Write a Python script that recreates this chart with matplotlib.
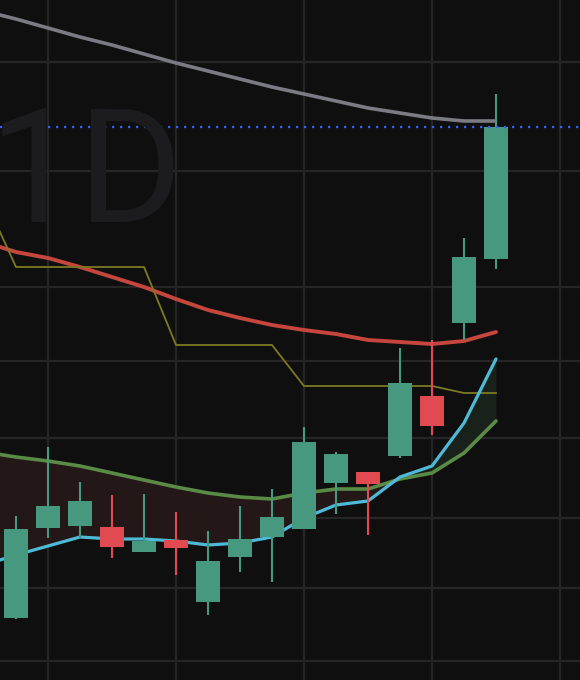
import matplotlib
matplotlib.use("Agg")
import matplotlib.pyplot as plt
import numpy as np

# ---- data (price units) ----
candle_idx = list(range(16))
opens  = [6.2, 15.2, 15.4, 15.3, 12.8, 14.0, 7.8, 12.3, 14.3, 15.1, 19.7, 20.8, 22.4, 28.4, 35.7, 42.1]
highs  = [16.4, 23.3, 19.8, 18.5, 18.6, 16.8, 14.9, 17.4, 19.1, 25.3, 22.8, 20.8, 33.2, 34.0, 44.2, 58.6]
lows   = [6.1, 14.2, 14.2, 12.2, 12.8, 10.5, 6.5, 10.8, 9.8, 15.1, 16.6, 14.5, 22.2, 24.5, 34.0, 41.1]
closes = [15.1, 17.4, 17.9, 13.3, 13.9, 13.2, 11.9, 14.1, 16.3, 23.8, 22.6, 19.6, 29.7, 25.4, 42.3, 55.3]

line_idx = list(range(-1, 16))
ma_gray  = [66.9, 66.1, 65.2, 64.3, 63.5, 62.6, 61.7, 60.9, 60.1, 59.3, 58.6, 57.9, 57.2, 56.7, 56.2, 55.9, 55.9]
ma_red   = [43.8, 42.8, 42.2, 41.3, 40.3, 39.3, 38.1, 37.0, 36.2, 35.5, 35.0, 34.6, 34.0, 33.8, 33.6, 33.9, 34.8]
mid_olive = [48.3, 41.3, 41.3, 41.3, 41.3, 41.3, 33.5, 33.5, 33.5, 33.5, 29.4, 29.4, 29.4, 29.4, 29.4, 28.7, 28.7]
ema_fast = [11.5, 12.5, 13.4, 14.3, 14.1, 14.1, 13.9, 13.5, 13.7, 14.3, 16.2, 17.5, 17.9, 20.3, 21.4, 25.7, 32.1]
ema_slow = [22.8, 22.3, 21.9, 21.4, 20.7, 20.0, 19.3, 18.7, 18.3, 18.1, 18.7, 19.1, 19.1, 20.1, 20.7, 22.7, 25.9]

last_price = 55.3
grid_prices = [61.8, 50.9, 39.3, 31.9, 24.2, 16.2, 9.2, 1.9]
grid_times = [1, 5, 9, 13, 17]
watermark = "1D"

# ---- colors ----
BG = "#0f0f0f"
GRID = "#262626"
UP = "#46987f"
DOWN = "#e24a51"

fig = plt.figure(figsize=(5.8, 6.8), dpi=100, facecolor=BG)
ax = fig.add_axes([0, 0, 1, 1])
ax.set_facecolor(BG)
ax.set_xlim(-0.5, 17.625)
ax.set_ylim(0, 68)
for s in ax.spines.values():
    s.set_visible(False)
ax.set_xticks(grid_times)
ax.set_yticks(grid_prices)
ax.tick_params(length=0, labelbottom=False, labelleft=False)
ax.grid(True, color=GRID, lw=1.6, zorder=1)
ax.set_axisbelow(True)

fig.text(183 / 580, (680 - 222) / 680, watermark, ha="right", va="baseline",
         fontsize=115, color="#1c1c1f", family="Roboto", zorder=0)

lx = np.array(line_idx, dtype=float)
ef = np.array(ema_fast)
es = np.array(ema_slow)
ax.fill_between(lx, ef, es, where=es >= ef, interpolate=True, color="#241717", lw=0, zorder=2)
ax.fill_between(lx, ef, es, where=ef >= es, interpolate=True, color="#18211a", lw=0, zorder=2)

ax.plot(line_idx, ma_gray, color="#7b7b83", lw=2.6, zorder=3, solid_capstyle="butt")
ax.plot(line_idx, ma_red, color="#c4463d", lw=2.8, zorder=3, solid_capstyle="round")
ax.plot(line_idx, mid_olive, color="#7c7a22", lw=1.3, zorder=3)
ax.plot(line_idx, ema_slow, color="#5a8b46", lw=2.6, zorder=3, solid_capstyle="round")
ax.plot(line_idx, ema_fast, color="#4fbad8", lw=2.3, zorder=3, solid_capstyle="round")

o = np.array(opens); c = np.array(closes)
cols = [UP if cc >= oo else DOWN for oo, cc in zip(opens, closes)]
ax.vlines(candle_idx, lows, highs, colors=cols, lw=1.5, zorder=4)
ax.bar(candle_idx, np.abs(c - o), bottom=np.minimum(o, c), width=0.75,
       color=cols, lw=0, zorder=5)

ax.axhline(last_price, color="#2f63f0", lw=1.6, ls=(0, (1, 2.6)), zorder=6)

fig.savefig("out.png", dpi=100, facecolor=BG)
